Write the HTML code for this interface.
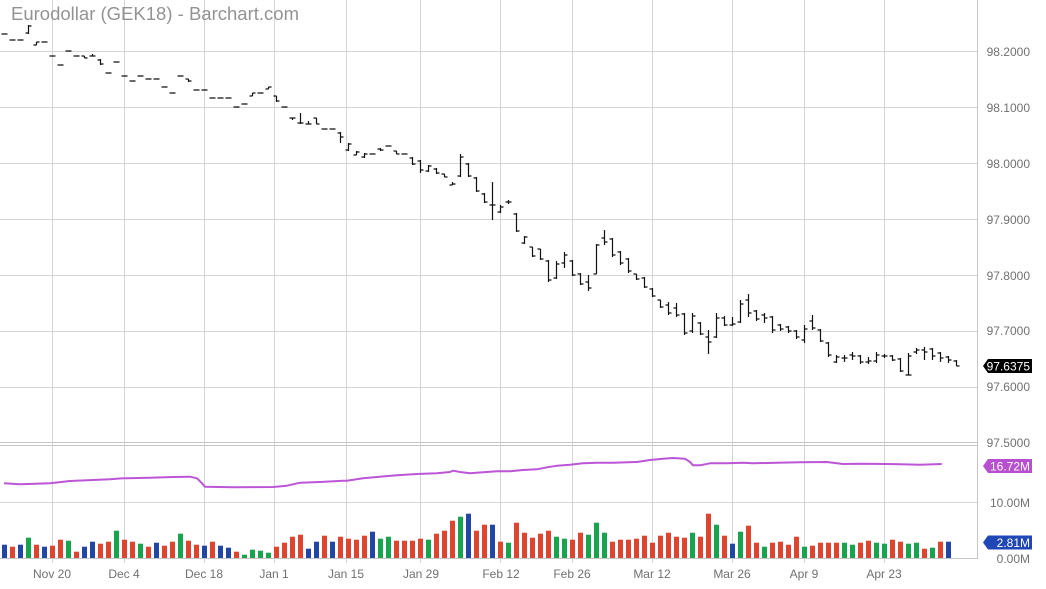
<!DOCTYPE html>
<html><head><meta charset="utf-8"><style>
html,body{margin:0;padding:0;background:#fff;}
svg{display:block;}
text{font-family:"Liberation Sans",sans-serif;}
</style></head><body>
<svg width="1046" height="589" viewBox="0 0 1046 589" xmlns="http://www.w3.org/2000/svg">
<rect width="1046" height="589" fill="#fff"/>
<!-- grid -->
<g stroke="#d4d4d4" stroke-width="1" fill="none">
<path d="M0 51.5H977M0 107.5H977M0 163.5H977M0 219.5H977M0 275.5H977M0 331.5H977M0 387.5H977M0 502.5H977"/>
<path d="M52.5 0V563M124.5 0V563M204.5 0V563M274.5 0V563M346.5 0V563M420.5 0V563M500.5 0V563M572.5 0V563M652.5 0V563M732.5 0V563M804.5 0V563M884.5 0V563"/>
</g>
<g stroke="#c6c6c6" stroke-width="1" fill="none">
<path d="M0 442.5H977M0 445.5H977M0 558.5H977M977.5 0V559"/>
</g>
<!-- title -->
<text x="11" y="20" font-size="18" fill="#939393" textLength="288" lengthAdjust="spacingAndGlyphs">Eurodollar (GEK18) - Barchart.com</text>
<!-- price bars -->
<g transform="translate(4.5,0)" stroke="#111" stroke-width="1.2" fill="none">
<path d="M-3 34h6M5 40h6M13 40h6M24 25V34M21 33h3M24 26h3M32 42V45M29 45h3M32 42h3M37 42h6M45 56h6M53 65h6M61 51h6M69 56h6M80 56V58M77 56h3M80 58h3M88 54V56M85 56h3M88 56h3M96 59V65M93 60h3M96 64h3M101 73h6M109 62h6M117 76h6M125 81h6M133 76h6M141 79h6M149 79h6M157 87h6M165 93h6M173 76h6M184 79V82M181 79h3M184 81h3M189 90h6M197 90h6M205 98h6M213 98h6M221 98h6M229 107h6M237 104h6M248 93V96M245 96h3M248 93h3M253 93h6M264 87V89M261 89h3M264 87h3M272 96V102M269 96h3M272 101h3M277 107h6M288 118V120M285 118h3M288 118h3M296 113V124M293 123h3M296 123h3M304 121V124M301 124h3M304 124h3M312 118V124M309 118h3M312 124h3M317 129h6M325 129h6"/>
<path d="M336 132V143M333 133h3M336 137h3M344 143V151M341 150h3M344 144h3M352 151V155M349 155h3M352 152h3M360 153V158M357 157h3M360 154h3M365 154h6M376 148V151M373 149h3M376 150h3M381 146h6M392 151V154M389 151h3M392 154h3M397 154h6M408 157V165M405 158h3M408 164h3M416 160V173M413 161h3M416 170h3M424 165V172M421 171h3M424 166h3M432 168V174M429 169h3M432 173h3M440 174V177M437 174h3M440 177h3M448 182V185M445 185h3M448 184h3M456 154V177M453 176h3M456 157h3M464 163V177M461 164h3M464 176h3M472 177V192M469 178h3M472 191h3M480 193V203M477 194h3M480 202h3M488 182V220M485 205h3M488 205h3M496 205V213M493 212h3M496 207h3M504 200V204M501 202h3M504 202h3"/>
<path d="M512 213V232M509 214h3M512 231h3M520 236V244M517 243h3M520 237h3M528 247V257M525 247h3M528 256h3M536 249V260M533 249h3M536 259h3M544 260V282M541 261h3M544 280h3M552 261V279M549 278h3M552 264h3M560 252V268M557 263h3M560 255h3M568 260V276M565 261h3M568 275h3M576 273V285M573 274h3M576 284h3M584 275V291M581 282h3M584 288h3M592 244V274M589 274h3M592 245h3M600 230V245M597 238h3M600 242h3M608 238V257M605 239h3M608 255h3M616 251V265M613 252h3M616 263h3M624 258V273M621 259h3M624 271h3M632 274V280M629 274h3M632 279h3M640 277V288M637 278h3M640 287h3M648 288V297M645 289h3M648 296h3M656 300V308M653 300h3M656 307h3M664 302V315M661 305h3M664 313h3M672 303V317M669 308h3M672 315h3M680 313V335M677 314h3M680 333h3M688 313V333M685 331h3M688 316h3M696 322V335M693 323h3M696 334h3M704 330V354M701 337h3M704 342h3M712 313V338M709 337h3M712 318h3M720 316V326M717 318h3M720 325h3M728 317V326M725 325h3M728 324h3"/>
<path d="M736 300V323M733 322h3M736 304h3M744 294V317M741 300h3M744 313h3M752 310V321M749 311h3M752 319h3M760 313V323M757 315h3M760 318h3M768 316V333M765 317h3M768 330h3M776 324V331M773 325h3M776 329h3M784 326V333M781 327h3M784 331h3M792 330V339M789 331h3M792 337h3M800 325V343M797 340h3M800 329h3M808 315V330M805 321h3M808 328h3M816 329V342M813 330h3M816 341h3M824 342V357M821 343h3M824 355h3M832 355V363M829 362h3M832 357h3M840 355V362M837 358h3M840 358h3M848 352V360M845 355h3M848 356h3M856 355V364M853 356h3M856 362h3M864 357V364M861 362h3M864 361h3M872 352V363M869 361h3M872 355h3M880 354V358M877 356h3M880 356h3M888 355V361M885 356h3M888 360h3M896 358V372M893 359h3M896 371h3M904 353V375M901 375h6M904 356h3M912 348V354M909 352h3M912 350h3M920 347V360M917 350h3M920 352h3M928 348V360M925 349h3M928 356h3M936 352V362M933 353h3M936 358h3M944 356V363M941 357h3M944 360h3M952 360V366M949 361h3M952 366h3"/>
</g>
<!-- purple line -->
<polyline fill="none" stroke="#bc55d6" stroke-width="2" stroke-linejoin="round" points="4,483.3 20,484.3 50,483.3 70,481 93,480 110,479.3 123,478.3 150,477.7 173,477 190,476.7 197,478.3 202,483.3 205,486.7 233,487.3 273,487 287,485.7 300,482.7 320,482 343,480.7 347,480.7 363,478.3 380,476.7 397,475.3 417,474 437,473.3 450,472 453,470.7 460,472 470,473.3 483,472.3 497,471.3 510,471.3 523,470 537,469.3 547,467.3 557,465.7 570,464.7 583,463.3 597,462.7 613,462.7 637,462 650,460 663,458.7 673,458 685,458.7 690,462 693,465.3 700,465.3 710,463.3 727,463.3 743,462.7 753,463.3 777,462.7 800,462.3 827,462 843,464 860,463.7 887,464 900,464.3 920,464.7 941.7,464"/>
<!-- volume bars -->
<g transform="translate(2,558) scale(1,-1)">
<g fill="#e2432c">
<rect x="8" width="5" height="11.3"/><rect x="32" width="5" height="13.3"/><rect x="48" width="5" height="12.3"/><rect x="56" width="5" height="18.3"/><rect x="72" width="5" height="6.3"/><rect x="96" width="5" height="14.3"/><rect x="104" width="5" height="16.3"/><rect x="120" width="5" height="18.3"/><rect x="128" width="5" height="16.3"/><rect x="144" width="5" height="11.3"/><rect x="160" width="5" height="12.3"/><rect x="168" width="5" height="16.3"/><rect x="184" width="5" height="17.3"/><rect x="192" width="5" height="13.3"/><rect x="208" width="5" height="16.3"/><rect x="232" width="5" height="6.3"/><rect x="272" width="5" height="11.3"/><rect x="280" width="5" height="15.3"/><rect x="288" width="5" height="21.3"/><rect x="296" width="5" height="23.3"/><rect x="320" width="5" height="22.3"/><rect x="336" width="5" height="21.3"/><rect x="344" width="5" height="19.3"/><rect x="352" width="5" height="18.3"/><rect x="360" width="5" height="22.3"/><rect x="392" width="5" height="17.3"/><rect x="400" width="5" height="17.3"/><rect x="408" width="5" height="17.3"/><rect x="416" width="5" height="19.3"/><rect x="432" width="5" height="24.3"/><rect x="440" width="5" height="27.3"/><rect x="448" width="5" height="37.3"/><rect x="472" width="5" height="27.3"/><rect x="480" width="5" height="33.3"/><rect x="496" width="5" height="16.3"/><rect x="512" width="5" height="35.3"/><rect x="520" width="5" height="25.3"/><rect x="528" width="5" height="20.3"/><rect x="536" width="5" height="24.3"/><rect x="544" width="5" height="27.3"/><rect x="568" width="5" height="18.3"/><rect x="576" width="5" height="25.3"/><rect x="608" width="5" height="16.3"/><rect x="616" width="5" height="18.3"/><rect x="624" width="5" height="18.3"/><rect x="632" width="5" height="19.3"/><rect x="640" width="5" height="22.3"/><rect x="648" width="5" height="15.3"/><rect x="656" width="5" height="22.3"/><rect x="664" width="5" height="25.3"/><rect x="672" width="5" height="21.3"/><rect x="680" width="5" height="20.3"/><rect x="696" width="5" height="21.3"/><rect x="704" width="5" height="44.3"/><rect x="720" width="5" height="22.3"/><rect x="744" width="5" height="32.3"/><rect x="752" width="5" height="15.3"/><rect x="768" width="5" height="15.3"/><rect x="776" width="5" height="16.3"/><rect x="784" width="5" height="13.3"/><rect x="792" width="5" height="21.3"/><rect x="808" width="5" height="12.3"/><rect x="816" width="5" height="15.3"/><rect x="824" width="5" height="15.3"/><rect x="832" width="5" height="15.3"/><rect x="856" width="5" height="15.3"/><rect x="864" width="5" height="17.3"/><rect x="888" width="5" height="18.3"/><rect x="896" width="5" height="16.3"/><rect x="920" width="5" height="9.3"/><rect x="936" width="5" height="16.3"/>
</g>
<g fill="#16a54a">
<rect x="24" width="5" height="20.3"/><rect x="64" width="5" height="17.3"/><rect x="112" width="5" height="27.3"/><rect x="136" width="5" height="14.3"/><rect x="176" width="5" height="24.3"/><rect x="240" width="5" height="3.3"/><rect x="248" width="5" height="8.3"/><rect x="256" width="5" height="7.3"/><rect x="264" width="5" height="5.3"/><rect x="376" width="5" height="19.3"/><rect x="384" width="5" height="21.3"/><rect x="424" width="5" height="18.3"/><rect x="456" width="5" height="41.3"/><rect x="504" width="5" height="15.3"/><rect x="552" width="5" height="21.3"/><rect x="560" width="5" height="19.3"/><rect x="584" width="5" height="23.3"/><rect x="592" width="5" height="35.3"/><rect x="600" width="5" height="25.3"/><rect x="688" width="5" height="25.3"/><rect x="712" width="5" height="33.3"/><rect x="736" width="5" height="26.3"/><rect x="760" width="5" height="11.3"/><rect x="800" width="5" height="11.3"/><rect x="840" width="5" height="15.3"/><rect x="848" width="5" height="13.3"/><rect x="872" width="5" height="15.3"/><rect x="880" width="5" height="14.3"/><rect x="904" width="5" height="14.3"/><rect x="912" width="5" height="15.3"/><rect x="928" width="5" height="10.3"/>
</g>
<g fill="#1f46a8">
<rect x="0" width="5" height="13.3"/><rect x="16" width="5" height="13.3"/><rect x="40" width="5" height="11.3"/><rect x="80" width="5" height="11.3"/><rect x="88" width="5" height="16.3"/><rect x="152" width="5" height="15.3"/><rect x="200" width="5" height="12.3"/><rect x="216" width="5" height="12.3"/><rect x="224" width="5" height="10.3"/><rect x="304" width="5" height="9.3"/><rect x="312" width="5" height="16.3"/><rect x="328" width="5" height="16.3"/><rect x="368" width="5" height="26.3"/><rect x="464" width="5" height="44.3"/><rect x="488" width="5" height="33.3"/><rect x="728" width="5" height="14.3"/><rect x="944" width="5" height="16.3"/>
</g>
</g>
<!-- right axis labels -->
<g font-size="12" fill="#707070" text-anchor="end">
<text x="1030" y="56">98.2000</text>
<text x="1030" y="112">98.1000</text>
<text x="1030" y="168">98.0000</text>
<text x="1030" y="224">97.9000</text>
<text x="1030" y="280">97.8000</text>
<text x="1030" y="335">97.7000</text>
<text x="1030" y="391">97.6000</text>
<text x="1030" y="447">97.5000</text>
<text x="1030" y="507">10.00M</text>
<text x="1030" y="563">0.00M</text>
</g>
<!-- badges -->
<polygon points="983,366 988,359 1032,359 1032,373 988,373" fill="#000"/>
<text x="1030" y="370.5" font-size="12" fill="#fff" text-anchor="end">97.6375</text>
<polygon points="983,466 988,459 1032,459 1032,473 988,473" fill="#b84fd0"/>
<text x="1030" y="470.5" font-size="12" fill="#fff" text-anchor="end">16.72M</text>
<polygon points="983,542.5 988,535.5 1032,535.5 1032,549.5 988,549.5" fill="#1f47b5"/>
<text x="1030" y="547" font-size="12" fill="#fff" text-anchor="end">2.81M</text>
<!-- x axis labels -->
<g font-size="12" fill="#707070" text-anchor="middle">
<text x="52" y="578">Nov 20</text>
<text x="124" y="578">Dec 4</text>
<text x="204" y="578">Dec 18</text>
<text x="274" y="578">Jan 1</text>
<text x="346" y="578">Jan 15</text>
<text x="421" y="578">Jan 29</text>
<text x="501" y="578">Feb 12</text>
<text x="572" y="578">Feb 26</text>
<text x="652" y="578">Mar 12</text>
<text x="732" y="578">Mar 26</text>
<text x="804" y="578">Apr 9</text>
<text x="884" y="578">Apr 23</text>
</g>
</svg>
</body></html>
